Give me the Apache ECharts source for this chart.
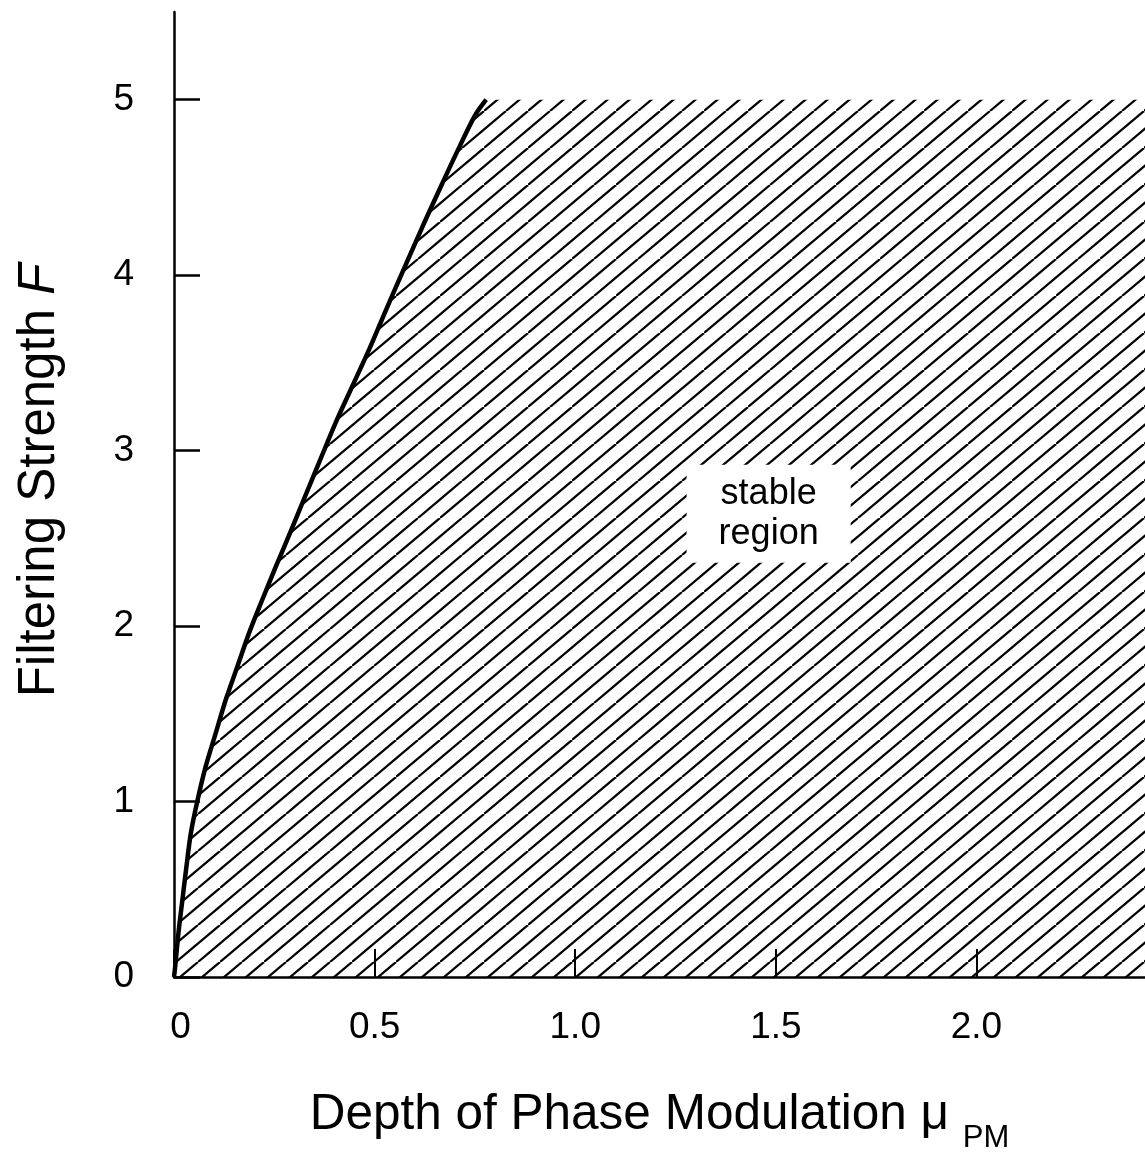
<!DOCTYPE html>
<html>
<head>
<meta charset="utf-8">
<script src="https://cdn.jsdelivr.net/npm/echarts@6/dist/echarts.min.js"></script>
<style>
html,body{margin:0;padding:0;background:#fff;}
#c{width:1145px;height:1153px;}
</style>
</head>
<body>
<div id="c"></div>
<script>
// Stability boundary: depth of phase modulation (mu) vs filtering strength F
const muBoundary = [0, 0.003, 0.011, 0.021, 0.031, 0.042, 0.058, 0.079, 0.104, 0.129, 0.158, 0.187, 0.220, 0.254, 0.289, 0.325, 0.363, 0.403, 0.445, 0.487, 0.528, 0.570, 0.620, 0.668, 0.711, 0.750, 0.778];
const fBoundary  = [0, 0.06, 0.25, 0.44, 0.63, 0.82, 1.00, 1.20, 1.39, 1.58, 1.77, 1.96, 2.15, 2.34, 2.53, 2.73, 2.94, 3.16, 3.37, 3.58, 3.80, 4.02, 4.28, 4.52, 4.73, 4.91, 5.00];
const xTicks = [0, 0.5, 1.0, 1.5, 2.0];
const yTicks = [0, 1, 2, 3, 4, 5];
const xMax = 2.42;
const yMax = 5.5;
const fTop = 5;
const regionLabel = 'stable\nregion';
const regionLabelPos = [1.482, 2.64];

const FONT = "'Liberation Sans', Arial, Helvetica, sans-serif";

function hatchCanvas() {
  const W = 44, H = 37, P = 22;
  const c = document.createElement('canvas');
  c.width = W; c.height = H;
  const g = c.getContext('2d');
  g.strokeStyle = '#000';
  g.lineWidth = 2.2;
  for (let k = -2; k <= 1; k++) {
    g.beginPath();
    g.moveTo(P * k, H);
    g.lineTo(P * k + W, 0);
    g.stroke();
  }
  return c;
}

const boundary = muBoundary.map((m, i) => [m, fBoundary[i]]);
const regionData = boundary.concat([[xMax, fTop]]);

const chart = echarts.init(document.getElementById('c'), null, {renderer: 'canvas'});
chart.setOption({
  animation: false,
  backgroundColor: '#fff',
  grid: {left: 174, right: 0, top: 12, bottom: 176, containLabel: false, outerBoundsMode: 'none'},
  xAxis: {
    type: 'value', min: 0, max: xMax,
    axisLine: {show: true, onZero: false, lineStyle: {color: '#000', width: 2.5}},
    axisTick: {show: true, inside: true, length: 28, customValues: xTicks, lineStyle: {color: '#000', width: 2}},
    axisLabel: {customValues: xTicks, color: '#000', fontSize: 37, fontFamily: FONT, margin: 32,
      formatter: v => (v === 0 ? '{z|0}' : v.toFixed(1)),
      rich: {z: {fontSize: 37, fontFamily: FONT, color: '#000', padding: [0, 0, 0, 13]}}},
    splitLine: {show: false},
    name: 'Depth of Phase Modulation μ {s|PM}',
    nameLocation: 'middle',
    nameGap: 100,
    nameTextStyle: {color: '#000', fontSize: 49.5, fontFamily: FONT,
      rich: {s: {fontSize: 31, fontFamily: FONT, color: '#000', padding: [46, 0, 0, 0]}}}
  },
  yAxis: {
    type: 'value', min: 0, max: yMax,
    axisLine: {show: true, onZero: false, lineStyle: {color: '#000', width: 2.5}},
    axisTick: {show: true, inside: true, length: 26, customValues: yTicks, lineStyle: {color: '#000', width: 2.5}},
    axisLabel: {customValues: yTicks, color: '#000', fontSize: 37, fontFamily: FONT, margin: 40},
    splitLine: {show: false},
    name: 'Filtering Strength {i|F}',
    nameLocation: 'middle',
    nameRotate: 90,
    nameGap: 109,
    nameTextStyle: {color: '#000', fontSize: 51, fontFamily: FONT, padding: [0, 0, 0, 28],
      rich: {i: {fontSize: 51, fontStyle: 'italic', fontFamily: FONT, color: '#000'}}}
  },
  series: [
    {
      type: 'line', data: regionData, symbol: 'none', silent: true, z: 1,
      lineStyle: {width: 0, opacity: 0},
      areaStyle: {color: {image: hatchCanvas(), repeat: 'repeat'}, opacity: 1}
    },
    {
      type: 'line', data: boundary, symbol: 'none', silent: true, z: 3,
      smooth: 0.3,
      lineStyle: {color: '#000', width: 4.5}
    },
    {
      type: 'scatter', data: [regionLabelPos], symbol: 'rect', symbolSize: 1, silent: true, z: 4,
      itemStyle: {color: 'rgba(0,0,0,0)', opacity: 1},
      label: {show: true, position: 'inside', formatter: regionLabel, color: '#000', opacity: 1,
        fontSize: 36, lineHeight: 40, fontFamily: FONT, align: 'center',
        backgroundColor: '#fff', padding: [9, 32, 9, 32]}
    }
  ]
});
</script>
</body>
</html>
